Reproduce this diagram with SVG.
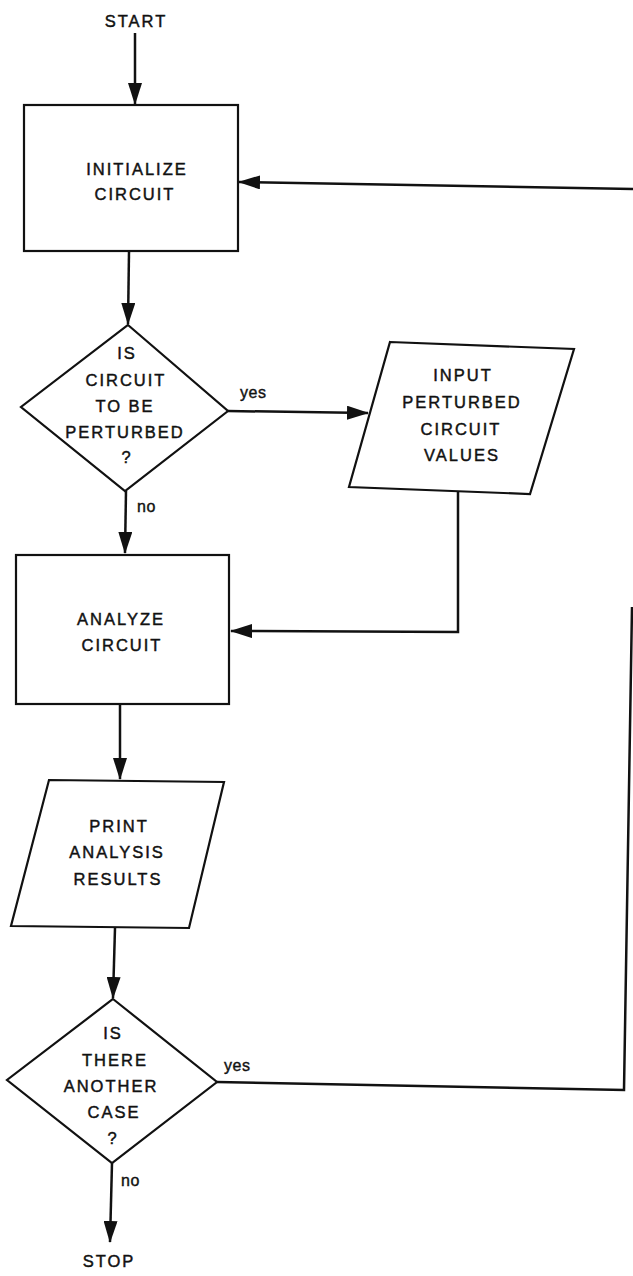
<svg xmlns="http://www.w3.org/2000/svg" width="633" height="1276" viewBox="0 0 633 1276">
<style>
.shape{fill:#fff;stroke:#111;stroke-width:2.2;stroke-linejoin:miter}
.conn{fill:none;stroke:#111;stroke-width:2.5}
.t{font-family:"Liberation Sans",Arial,sans-serif;font-size:16.5px;fill:#111;text-anchor:middle;letter-spacing:2px;stroke:#111;stroke-width:0.45}
.lbl{font-family:"Liberation Sans",Arial,sans-serif;font-size:16px;fill:#111;letter-spacing:0.6px;stroke:#111;stroke-width:0.4}
</style>
<defs>
<marker id="ah" markerUnits="userSpaceOnUse" markerWidth="22" markerHeight="14" refX="21" refY="7" orient="auto">
<path d="M0,0 L22,7 L0,14 z" fill="#111"/>
</marker>
</defs>
<rect width="633" height="1276" fill="#fff"/>
<g id="connectors">
<path class="conn" d="M135,33 L135,104" marker-end="url(#ah)"/>
<path class="conn" d="M129,252 L128,324" marker-end="url(#ah)"/>
<path class="conn" d="M228,411 L368,413" marker-end="url(#ah)"/>
<path class="conn" d="M126,491 L125,553" marker-end="url(#ah)"/>
<path class="conn" d="M458,491 L458,632 L231,631" marker-end="url(#ah)"/>
<path class="conn" d="M120,705 L120,779" marker-end="url(#ah)"/>
<path class="conn" d="M115,928 L113,998" marker-end="url(#ah)"/>
<path class="conn" d="M217,1082 L624,1090 L632,607"/>
<path class="conn" d="M633,189 L239,182" marker-end="url(#ah)"/>
<path class="conn" d="M112,1163 L110,1242" marker-end="url(#ah)"/>
<text class="lbl" x="240" y="398">yes</text>
<text class="lbl" x="137" y="512">no</text>
<text class="lbl" x="224" y="1071">yes</text>
<text class="lbl" x="121" y="1186">no</text>
</g>
<g id="start">
<text class="t" x="136" y="27">START</text>
</g>
<g id="initialize">
<rect class="shape" x="24" y="105" width="214" height="146"/>
<text class="t" x="137" y="175">INITIALIZE</text>
<text class="t" x="135" y="200">CIRCUIT</text>
</g>
<g id="perturb-decision">
<polygon class="shape" points="128,325 228,411 125,491 21,407"/>
<text class="t" x="127" y="359">IS</text>
<text class="t" x="126" y="386">CIRCUIT</text>
<text class="t" x="125" y="412">TO BE</text>
<text class="t" x="125" y="438">PERTURBED</text>
<text class="t" x="127" y="463">?</text>
</g>
<g id="input-values">
<polygon class="shape" points="390,342 574,349 530,494 349,487"/>
<text class="t" x="463" y="381">INPUT</text>
<text class="t" x="462" y="408">PERTURBED</text>
<text class="t" x="461" y="435">CIRCUIT</text>
<text class="t" x="462" y="461">VALUES</text>
</g>
<g id="analyze">
<rect class="shape" x="16" y="555" width="213" height="149"/>
<text class="t" x="121" y="625">ANALYZE</text>
<text class="t" x="122" y="651">CIRCUIT</text>
</g>
<g id="print-results">
<polygon class="shape" points="49,780 224,782 189,928 11,926"/>
<text class="t" x="119" y="832">PRINT</text>
<text class="t" x="117" y="858">ANALYSIS</text>
<text class="t" x="118" y="885">RESULTS</text>
</g>
<g id="another-case-decision">
<polygon class="shape" points="113,999 217,1082 112,1163 7,1080"/>
<text class="t" x="113" y="1039">IS</text>
<text class="t" x="115" y="1066">THERE</text>
<text class="t" x="111" y="1092">ANOTHER</text>
<text class="t" x="114" y="1118">CASE</text>
<text class="t" x="113" y="1144">?</text>
</g>
<g id="stop">
<text class="t" x="109" y="1267">STOP</text>
</g>
</svg>
